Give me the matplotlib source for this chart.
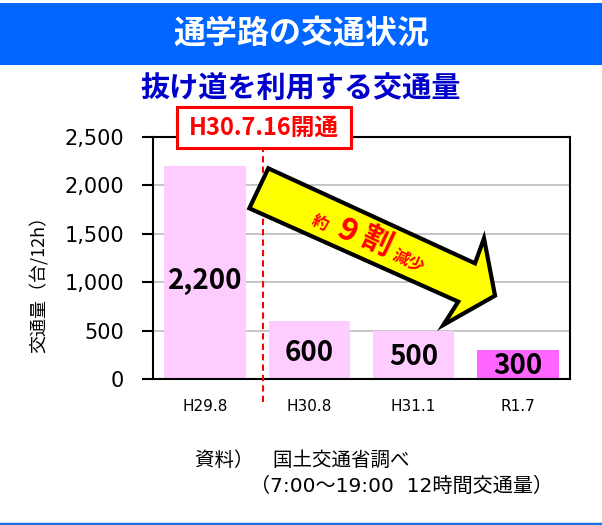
import numpy as np
import matplotlib
matplotlib.use('Agg')
import matplotlib.pyplot as plt
from matplotlib.patches import Rectangle, Polygon

plt.rcParams['font.family'] = ['DejaVu Sans', 'Noto Sans CJK JP']
JP = ['Noto Sans CJK JP', 'DejaVu Sans']

# データ
categories = ['H29.8', 'H30.8', 'H31.1', 'R1.7']
traffic = [2200, 600, 500, 300]
bar_labels = ['2,200', '600', '500', '300']
bar_colors = ['#FFCCFF', '#FFCCFF', '#FFCCFF', '#FF66FF']
yticks = [0, 500, 1000, 1500, 2000, 2500]

W, H = 602, 525
fig = plt.figure(figsize=(W / 100, H / 100), dpi=100)

# 見出し
fig.patches.append(Rectangle((0, 1 - 65 / H), 1, 62 / H, transform=fig.transFigure,
                             facecolor='#0066FF', edgecolor='none'))
fig.text(0.5, 1 - 34 / H, '通学路の交通状況', color='white', fontsize=23,
         fontweight='bold', family=JP, ha='center', va='center')
fig.text(0.5, 1 - 88 / H, '抜け道を利用する交通量', color='#0000CC', fontsize=21,
         fontweight='bold', family=JP, ha='center', va='center')

ax = fig.add_axes([153 / W, 1 - 379.3 / H, (570 - 153) / W, (379.3 - 136.7) / H])
x = np.arange(len(categories))
ax.bar(x, traffic, width=0.78, color=bar_colors, zorder=2)
for xi, v, lab in zip(x, traffic, bar_labels):
    ax.text(xi, v * 0.46, lab, ha='center', va='center', fontsize=20,
            fontweight='bold', family=JP, zorder=3)

ax.set_xlim(-0.5, len(categories) - 0.5)
ax.set_ylim(0, 2500)
ax.set_yticks(yticks)
ax.set_yticklabels([f'{t:,}' for t in yticks], fontsize=15)
ax.set_xticks(x)
ax.set_xticklabels(categories, fontsize=11)
ax.tick_params(axis='y', length=8, width=1.5, pad=13)
ax.tick_params(axis='x', length=0, pad=14)
ax.grid(axis='y', color='#C0C0C0', lw=1.3, zorder=0)
ax.set_axisbelow(True)
for s in ax.spines.values():
    s.set_linewidth(1.5)
ax.set_ylabel('交通量（台/12h）', fontsize=13, family=JP)
ax.yaxis.set_label_coords(-0.25, 0.41)

# 開通の線
ax.plot([0.555, 0.555], [-235, 2370], color='red', ls=(0, (3, 2)), lw=1.5,
        clip_on=False, zorder=4)
fig.patches.append(Rectangle((177 / W, 1 - 148 / H), 174 / W, 41 / H,
                             transform=fig.transFigure, facecolor='white',
                             edgecolor='red', lw=2.2, zorder=5))
fig.text(264 / W, 1 - 128 / H, 'H30.7.16開通', color='red', fontsize=17,
         fontweight='bold', family=JP, ha='center', va='center', zorder=6)

# 矢印
arrow_x = [0.606, 0.424, 2.428, 2.285, 2.781, 2.675, 2.589]
arrow_y = [2174, 1762, 800, 560, 862, 1453, 1195]
ax.add_patch(Polygon(np.column_stack([arrow_x, arrow_y]), closed=True,
                     facecolor='#FFFF00', edgecolor='black', lw=3,
                     joinstyle='miter', zorder=5, clip_on=False))
rot = -25
ax.text(1.10, 1614, '約', color='red', fontsize=12, fontweight='bold', family=JP,
        rotation=rot, rotation_mode='anchor', ha='center', va='center', zorder=6)
ax.text(1.36, 1521, '9', color='red', fontsize=23, fontweight='bold', family=JP,
        rotation=rot, rotation_mode='anchor', ha='center', va='center', zorder=6)
ax.text(1.645, 1418, '割', color='red', fontsize=22, fontweight='bold', family=JP,
        rotation=rot, rotation_mode='anchor', ha='center', va='center', zorder=6)
ax.text(1.95, 1212, '減少', color='red', fontsize=12, fontweight='bold', family=JP,
        rotation=rot, rotation_mode='anchor', ha='center', va='center', zorder=6)

# 出典
fig.text(195 / W, 1 - 460 / H, '資料）　国土交通省調べ', fontsize=14, family=JP,
         ha='left', va='center')
fig.text(250 / W, 1 - 486 / H, '（7:00～19:00  12時間交通量）', fontsize=14.5,
         family=['DejaVu Sans', 'Noto Sans CJK JP'], ha='left', va='center')

fig.lines.append(plt.Line2D([0, 1], [1 - 524 / H, 1 - 524 / H], transform=fig.transFigure,
                            color='#1A6FE8', lw=2.5))

fig.savefig('out.png', dpi=100)
